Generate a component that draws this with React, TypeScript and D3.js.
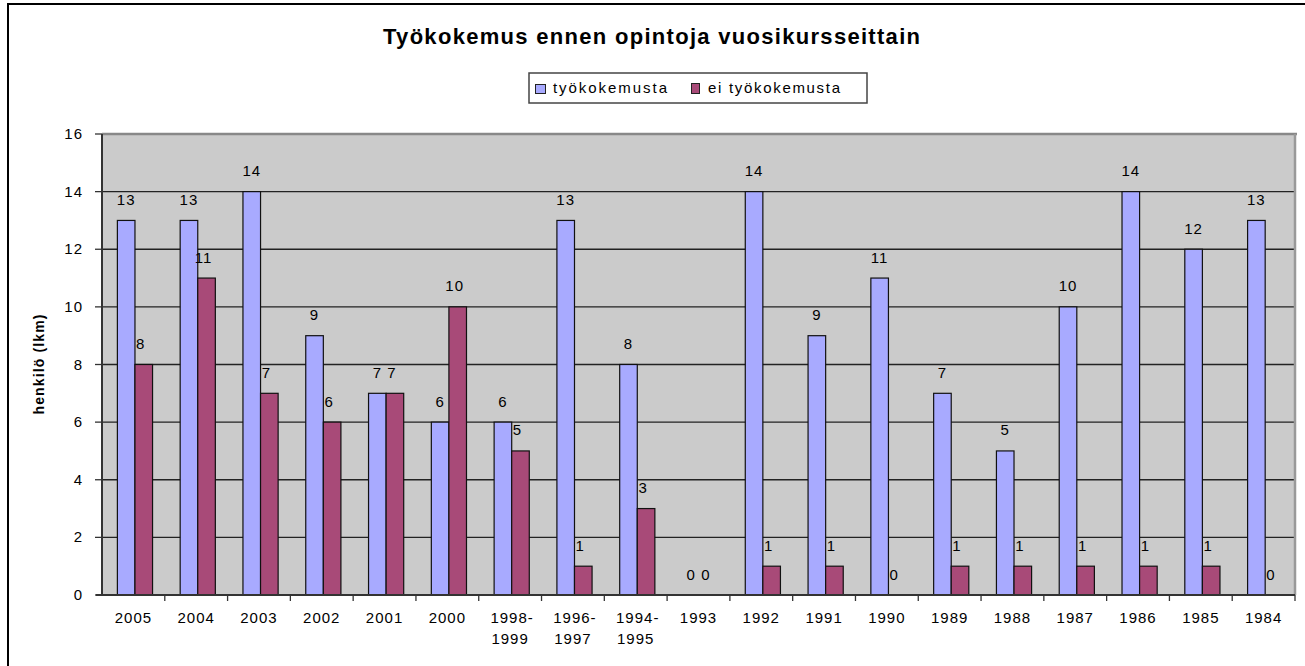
import React from "react";
import * as d3 from "d3";

const categories = ["2005", "2004", "2003", "2002", "2001", "2000", "1998-1999", "1996-1997", "1994-1995", "1993", "1992", "1991", "1990", "1989", "1988", "1987", "1986", "1985", "1984"];
const tyokokemusta = [13, 13, 14, 9, 7, 6, 6, 13, 8, 0, 14, 9, 11, 7, 5, 10, 14, 12, 13];
const eiTyokokemusta = [8, 11, 7, 6, 7, 10, 5, 1, 3, 0, 1, 1, 0, 1, 1, 1, 1, 1, 0];
const yTicks = [0, 2, 4, 6, 8, 10, 12, 14, 16];
const seriesNames = ["työkokemusta", "ei työkokemusta"];
const seriesColors = ["#A8AAFF", "#A84A78"];

const W = 1305;
const H = 666;
const FONT = "'Liberation Sans', Arial, sans-serif";

export default function App() {
  const plot = { left: 102, right: 1295, top: 134, bottom: 595 };
  const x = d3.scaleBand<string>().domain(categories).range([plot.left, plot.right]).padding(0);
  const y = d3.scaleLinear().domain([0, 16]).range([plot.bottom, plot.top]);
  const bw = x.bandwidth();
  const inner = d3.scaleBand<string>().domain(["a", "b"]).range([bw * 0.245, bw * 0.805]).padding(0);
  const ib = inner.bandwidth();
  const series = [tyokokemusta, eiTyokokemusta];
  const keys = ["a", "b"];

  return (
    <svg width={W} height={H} style={{ position: "absolute", left: 0, top: 0, background: "#fff" }} fontFamily={FONT}>
      {/* outer frame (cut off at right and bottom) */}
      <rect x={8} y={4} width={1400} height={800} fill="#fff" stroke="#000" strokeWidth={2} />

      {/* title */}
      <text x={383} y={44} fontSize={22} fontWeight="bold" textLength={537} lengthAdjust="spacing" fill="#000">
        Työkokemus ennen opintoja vuosikursseittain
      </text>

      {/* legend */}
      <rect x={529} y={73} width={338} height={30} fill="#fff" stroke="#444" strokeWidth={1.5} />
      <rect x={535.5} y={84.5} width={10} height={9} fill={seriesColors[0]} stroke="#222" strokeWidth={1} />
      <text x={553} y={93} fontSize={15} textLength={114} lengthAdjust="spacing">{seriesNames[0]}</text>
      <rect x={691.5} y={83.5} width={8} height={10} fill={seriesColors[1]} stroke="#222" strokeWidth={1} />
      <text x={708} y={93} fontSize={15} textLength={132} lengthAdjust="spacing">{seriesNames[1]}</text>

      {/* plot area */}
      <rect x={plot.left} y={plot.top} width={plot.right - plot.left} height={plot.bottom - plot.top} fill="#CBCBCB" />
      {yTicks.slice(1, -1).map((t) => (
        <line key={"g" + t} x1={plot.left} x2={plot.right} y1={y(t)} y2={y(t)} stroke="#222" strokeWidth={1.3} />
      ))}
      <line x1={plot.left} x2={plot.right + 2} y1={plot.top} y2={plot.top} stroke="#888" strokeWidth={2.5} />
      <line x1={plot.right} x2={plot.right} y1={plot.top} y2={plot.bottom} stroke="#999" strokeWidth={2.5} />

      {/* bars */}
      {series.map((vals, si) =>
        vals.map((v, i) => {
          if (v <= 0) return null;
          const bx = (x(categories[i]) as number) + (inner(keys[si]) as number);
          return (
            <rect key={si + "-" + i} x={bx} y={y(v)} width={ib} height={y(0) - y(v)} fill={seriesColors[si]} stroke="#111" strokeWidth={1.2} />
          );
        })
      )}

      {/* axes */}
      <line x1={plot.left} x2={plot.left} y1={plot.top} y2={plot.bottom} stroke="#333" strokeWidth={2} />
      <line x1={plot.left - 6} x2={plot.right} y1={plot.bottom} y2={plot.bottom} stroke="#333" strokeWidth={2} />
      {yTicks.map((t) => (
        <g key={"yt" + t}>
          <line x1={plot.left - 7} x2={plot.left} y1={y(t)} y2={y(t)} stroke="#333" strokeWidth={1.3} />
          <text x={83} y={y(t) + 5} fontSize={15} textAnchor="end" letterSpacing={1}>{t}</text>
        </g>
      ))}
      {categories.map((c, i) => {
        const x0 = x(c) as number;
        const parts = c.includes("-") ? [c.split("-")[0] + "-", c.split("-")[1]] : [c];
        return (
          <g key={"xt" + c}>
            {i > 0 && <line x1={x0} x2={x0} y1={plot.bottom} y2={plot.bottom + 6} stroke="#333" strokeWidth={1.3} />}
            {parts.map((p, k) => (
              <text key={k} x={x0 + bw / 2 + (p.endsWith("-") ? 2 : 0)} y={623 + k * 21} fontSize={15} textAnchor="middle" letterSpacing={1}>{p}</text>
            ))}
          </g>
        );
      })}
      <line x1={plot.right} x2={plot.right} y1={plot.bottom} y2={plot.bottom + 6} stroke="#333" strokeWidth={1.3} />

      {/* data labels */}
      {series.map((vals, si) =>
        vals.map((v, i) => {
          const cx = (x(categories[i]) as number) + (inner(keys[si]) as number) + ib / 2 + (si === 1 ? -3 : 0);
          return (
            <text key={"l" + si + "-" + i} x={cx} y={y(v) - 15.5} fontSize={15} textAnchor="middle" letterSpacing={1}>{v}</text>
          );
        })
      )}

      {/* y axis title */}
      <text transform={`translate(44, ${(plot.top + plot.bottom) / 2}) rotate(-90)`} fontSize={14} fontWeight="bold" textAnchor="middle" textLength={100} lengthAdjust="spacing">
        henkilö (lkm)
      </text>
    </svg>
  );
}
